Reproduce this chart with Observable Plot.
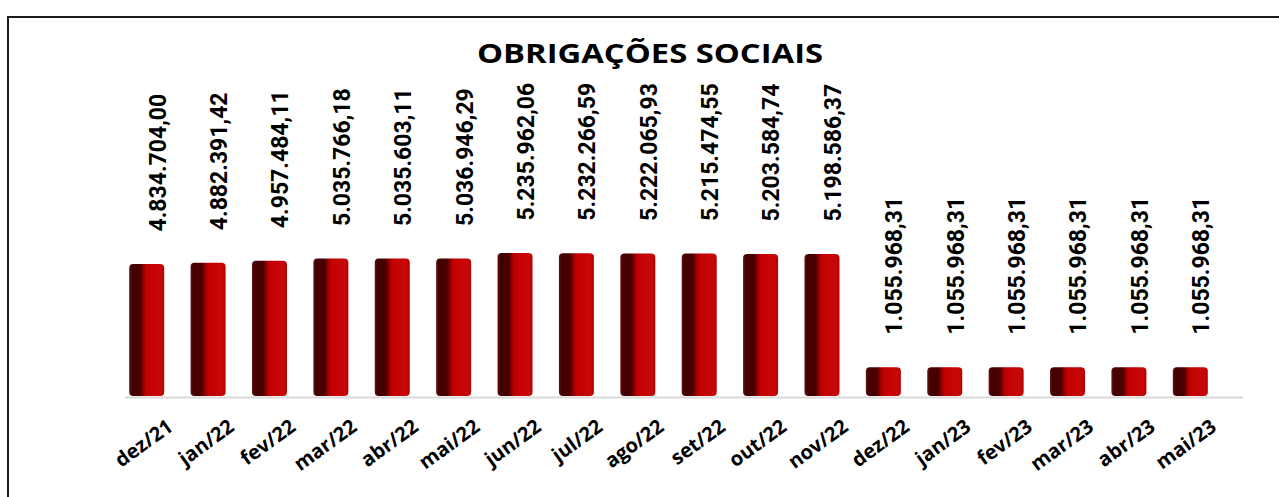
<!DOCTYPE html>
<html>
<head>
<meta charset="utf-8">
<script src="https://cdn.jsdelivr.net/npm/d3@7"></script>
<script src="https://cdn.jsdelivr.net/npm/@observablehq/plot@0.6"></script>
<style>
  html, body { margin: 0; padding: 0; background: #fff; }
  #wrap { position: relative; width: 1279px; height: 497px; overflow: hidden; }
  #frame { position: absolute; left: 7px; top: 16px; width: 1300px; height: 520px;
           border-left: 2.5px solid #1a1a1a; border-top: 2.5px solid #1a1a1a; box-sizing: border-box; }
  #title { position: absolute; left: 0; top: 35px; width: 1300px; text-align: center;
           font-family: "Open Sans", sans-serif; font-weight: 700; font-size: 26px; color: #000;
           transform: scaleX(1.26); transform-origin: 650px 0; }
  #chart { position: absolute; left: 0; top: 0; }
</style>
</head>
<body>
<div id="wrap">
  <div id="frame"></div>
  <div id="chart"></div>
  <div id="title">OBRIGAÇÕES SOCIAIS</div>
</div>
<script>
const months = ["dez/21","jan/22","fev/22","mar/22","abr/22","mai/22","jun/22","jul/22","ago/22","set/22","out/22","nov/22","dez/22","jan/23","fev/23","mar/23","abr/23","mai/23"];
const values = [4834704.00, 4882391.42, 4957484.11, 5035766.18, 5035603.11, 5036946.29, 5235962.06, 5232266.59, 5222065.93, 5215474.55, 5203584.74, 5198586.37, 1055968.31, 1055968.31, 1055968.31, 1055968.31, 1055968.31, 1055968.31];
const valueLabels = ["4.834.704,00","4.882.391,42","4.957.484,11","5.035.766,18","5.035.603,11","5.036.946,29","5.235.962,06","5.232.266,59","5.222.065,93","5.215.474,55","5.203.584,74","5.198.586,37","1.055.968,31","1.055.968,31","1.055.968,31","1.055.968,31","1.055.968,31","1.055.968,31"];

const data = months.map((m, i) => ({month: m, value: values[i], label: valueLabels[i]}));

const chart = Plot.plot({
  width: 1279,
  height: 497,
  marginLeft: 125,
  marginRight: 36,
  marginTop: 0,
  marginBottom: 100,
  x: {type: "band", domain: months, range: [116, 1221], paddingInner: 0.43, paddingOuter: 0.215, round: false, axis: null},
  y: {domain: [0, 10000000], range: [396, 123], axis: null},
  marks: [
    Plot.ruleY([0], {stroke: "#d9d9d9", strokeWidth: 2, dy: 1}),
    Plot.barY(data, {x: "month", y: "value", fill: "url(#cyl)", rx: 4}),
    Plot.text(data, {x: "month", y: "value", text: "label", rotate: -90, textAnchor: "start",
      dx: 11, dy: -33, fontSize: 23, fontWeight: "bold", fontFamily: "Roboto, 'Noto Sans', sans-serif", fill: "#000"}),
    Plot.text(data, {x: "month", y: 0, text: "month", rotate: -36, textAnchor: "end", lineAnchor: "bottom",
      dx: 27, dy: 33, fontSize: 20, fontWeight: "bold", fontFamily: "'Open Sans', sans-serif", fill: "#000"})
  ]
});

const ns = "http://www.w3.org/2000/svg";
const defs = document.createElementNS(ns, "defs");
const grad = document.createElementNS(ns, "linearGradient");
grad.setAttribute("id", "cyl");
grad.setAttribute("x1", "0"); grad.setAttribute("x2", "1");
grad.setAttribute("y1", "0"); grad.setAttribute("y2", "0");
[["0", "#6b1010"], ["0.08", "#420000"], ["0.32", "#4a0000"], ["0.42", "#9a0000"], ["0.5", "#c20000"], ["0.9", "#c80808"], ["1", "#b00000"]]
  .forEach(([o, c]) => {
    const s = document.createElementNS(ns, "stop");
    s.setAttribute("offset", o);
    s.setAttribute("stop-color", c);
    grad.appendChild(s);
  });
defs.appendChild(grad);
chart.insertBefore(defs, chart.firstChild);
document.getElementById("chart").appendChild(chart);
</script>
</body>
</html>
